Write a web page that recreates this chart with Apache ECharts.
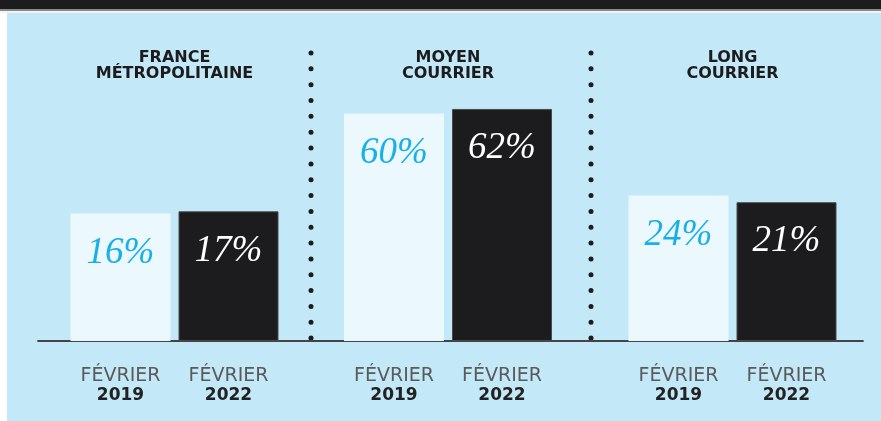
<!DOCTYPE html>
<html>
<head>
<meta charset="utf-8">
<script src="https://cdn.jsdelivr.net/npm/echarts@6/dist/echarts.min.js"></script>
<style>
  html, body { margin: 0; padding: 0; background: #ffffff; }
  #chart { width: 881px; height: 421px; }
</style>
</head>
<body>
<div id="chart"></div>
<script>
const groups = ["FRANCE\nMÉTROPOLITAINE", "MOYEN\nCOURRIER", "LONG\nCOURRIER"];
const years = ["2019", "2022"];
const month = "FÉVRIER";
const share2019 = [16, 60, 24];
const share2022 = [17, 62, 21];

const bg = "#c3e8f7";
const dark = "#1c1c1e";
const groupCenters = [174.5, 448, 732.5];
const gridWidth = 216;
// the bars in the original sit on a raised floor, not on zero
const axisFloor = -40;

const myChart = echarts.init(document.getElementById("chart"));

const grids = [];
const xAxes = [];
const yAxes = [];
const series = [];
const titles = [];

groups.forEach((name, i) => {
  grids.push({ left: groupCenters[i] - gridWidth / 2, width: gridWidth, top: 22.5, bottom: 80 });
  xAxes.push({
    type: "category",
    gridIndex: i,
    data: years,
    axisLine: { show: false, onZero: false },
    axisTick: { show: false },
    axisLabel: {
      margin: 26,
      formatter: (v) => "{a|" + month + "}\n{b|" + v + "}",
      rich: {
        a: { fontFamily: "DejaVu Sans", fontSize: 19, color: "#5a5a5a", lineHeight: 19 },
        b: { fontFamily: "DejaVu Sans", fontSize: 17, fontWeight: "bold", color: "#222", lineHeight: 19 },
      },
    },
  });
  yAxes.push({ type: "value", gridIndex: i, min: axisFloor, max: 100, startValue: axisFloor, show: false });
  series.push({
    type: "bar",
    xAxisIndex: i,
    yAxisIndex: i,
    barWidth: 100,
    data: [
      {
        value: share2019[i],
        itemStyle: { color: "#ebf8fe" },
        label: { color: "#1ab0e6" },
      },
      {
        value: share2022[i],
        itemStyle: { color: dark, borderColor: "#4a4a4a", borderWidth: 1 },
        label: { color: "#ffffff" },
      },
    ],
    label: {
      show: true,
      position: "insideTop",
      distance: 21,
      formatter: "{c}%",
      fontFamily: "Liberation Serif",
      fontStyle: "italic",
      fontSize: 37,
    },
  });
  titles.push({
    text: name,
    left: groupCenters[i],
    top: 50,
    textAlign: "center",
    padding: 0,
    textStyle: { fontFamily: "DejaVu Sans", fontSize: 16, fontWeight: "bold", color: dark, lineHeight: 16 },
  });
});

// baseline across all groups
grids.push({ left: 38, right: 18, top: 22.5, bottom: 80 });
xAxes.push({
  type: "category",
  gridIndex: 3,
  data: [""],
  axisLine: { show: true, lineStyle: { color: "#444", width: 1.8 } },
  axisTick: { show: false },
  axisLabel: { show: false },
});
yAxes.push({ type: "value", gridIndex: 3, min: 0, max: 1, show: false });

const dots = (x) => ({
  type: "line",
  shape: { x1: x, y1: 53, x2: x, y2: 341 },
  style: { stroke: dark, lineWidth: 5, lineCap: "round", lineDash: [0.01, 15.83] },
});

const option = {
  backgroundColor: bg,
  animation: false,
  title: titles,
  grid: grids,
  xAxis: xAxes,
  yAxis: yAxes,
  series: series,
  graphic: [
    { type: "rect", shape: { x: 0, y: 0, width: 7, height: 421 }, style: { fill: "#ffffff" } },
    { type: "rect", shape: { x: 0, y: 0, width: 881, height: 13 }, style: { fill: "#f4f4f4" } },
    { type: "rect", shape: { x: 0, y: 0, width: 881, height: 11 }, style: { fill: "#8a8a8a" } },
    { type: "rect", shape: { x: 0, y: 0, width: 881, height: 9 }, style: { fill: dark } },
    dots(311),
    dots(591),
  ],
};

option && myChart.setOption(option);
</script>
</body>
</html>
